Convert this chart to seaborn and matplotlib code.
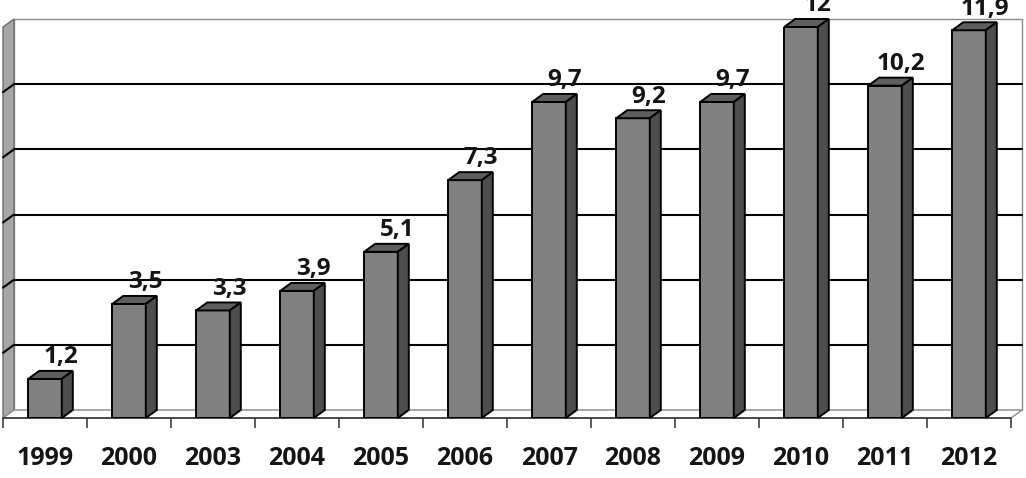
import matplotlib
matplotlib.use("Agg")
import matplotlib.pyplot as plt
from matplotlib.patches import Polygon
import seaborn as sns
import pandas as pd

years = ["1999", "2000", "2003", "2004", "2005", "2006", "2007", "2008", "2009", "2010", "2011", "2012"]
values = [1.2, 3.5, 3.3, 3.9, 5.1, 7.3, 9.7, 9.2, 9.7, 12, 10.2, 11.9]
value_labels = [f"{v:g}".replace(".", ",") for v in values]

sns.set_theme(style="white")
plt.rcParams["font.family"] = ["Open Sans", "DejaVu Sans"]

W, H = 1026, 478
fig = plt.figure(figsize=(W / 100, H / 100), dpi=100)
# front frame: x 3..1011 px, y 418 (0) .. 27 (12)
ax = fig.add_axes([3 / W, (H - 418) / H, (1011 - 3) / W, (418 - 27) / H])

df = pd.DataFrame({"year": years, "value": values})
sns.barplot(data=df, x="year", y="value", color="#808080", width=0.4,
            edgecolor="black", linewidth=1.4, saturation=1, ax=ax, zorder=5)

n = len(years)
ymax = 12
ax.set_xlim(-0.5, n - 0.5)
ax.set_ylim(0, ymax)

# depth offsets (data units): 11 px right, 8 px up
px_x = (1011 - 3) / n
px_y = (418 - 27) / ymax
dx = 11 / px_x
dy = 8 / px_y

x0, x1 = -0.5, n - 0.5
back = Polygon([(x0 + dx, dy), (x1 + dx, dy), (x1 + dx, ymax + dy), (x0 + dx, ymax + dy)],
               closed=True, facecolor="white", edgecolor="#8c8c8c", lw=1.0, zorder=0, clip_on=False)
ax.add_patch(back)
side = Polygon([(x0, 0), (x0 + dx, dy), (x0 + dx, ymax + dy), (x0, ymax)],
               closed=True, facecolor="#a6a6a6", edgecolor="#6e6e6e", lw=1.0, zorder=0.5, clip_on=False)
ax.add_patch(side)
floor = Polygon([(x0, 0), (x1, 0), (x1 + dx, dy), (x0 + dx, dy)],
                closed=True, facecolor="white", edgecolor="#8c8c8c", lw=1.0, zorder=0.5, clip_on=False)
ax.add_patch(floor)
ax.plot([x0, x1], [0, 0], color="#404040", lw=1.3, zorder=1, clip_on=False)

for g in range(2, ymax, 2):
    ax.plot([x0 + dx, x1 + dx], [g + dy, g + dy], color="black", lw=1.5, zorder=1, clip_on=False)
    ax.plot([x0, x0 + dx], [g, g + dy], color="black", lw=1.5, zorder=1, clip_on=False)

for p, lab, v in zip(ax.patches, value_labels, values):
    bx, bw, bh = p.get_x(), p.get_width(), p.get_height()
    top = Polygon([(bx, bh), (bx + bw, bh), (bx + bw + dx, bh + dy), (bx + dx, bh + dy)],
                  closed=True, facecolor="#5e5e5e", edgecolor="black", lw=1.4, zorder=5, clip_on=False)
    rside = Polygon([(bx + bw, 0), (bx + bw + dx, dy), (bx + bw + dx, bh + dy), (bx + bw, bh)],
                    closed=True, facecolor="#4e4e4e", edgecolor="black", lw=1.4, zorder=5, clip_on=False)
    ax.add_patch(top)
    ax.add_patch(rside)
    ax.annotate(lab, (bx + bw / 2, bh), xytext=(11.5, 7), textcoords="offset points",
                ha="center", va="bottom", fontsize=17.5, fontweight="bold", color="#151515",
                zorder=6, annotation_clip=False)

for s in ax.spines.values():
    s.set_visible(False)
ax.set_xlabel("")
ax.set_ylabel("")
ax.set_yticks([])
ax.set_xticks(range(n))
ax.set_xticklabels(years, fontsize=18, fontweight="bold", color="#151515")
ax.set_xticks([i - 0.5 for i in range(n + 1)], minor=True)
ax.tick_params(axis="x", which="major", length=0, pad=20)
ax.tick_params(axis="x", which="minor", length=7, width=1.2, color="#404040", direction="out", bottom=True)
ax.grid(False)

fig.savefig("out.png", dpi=100)
